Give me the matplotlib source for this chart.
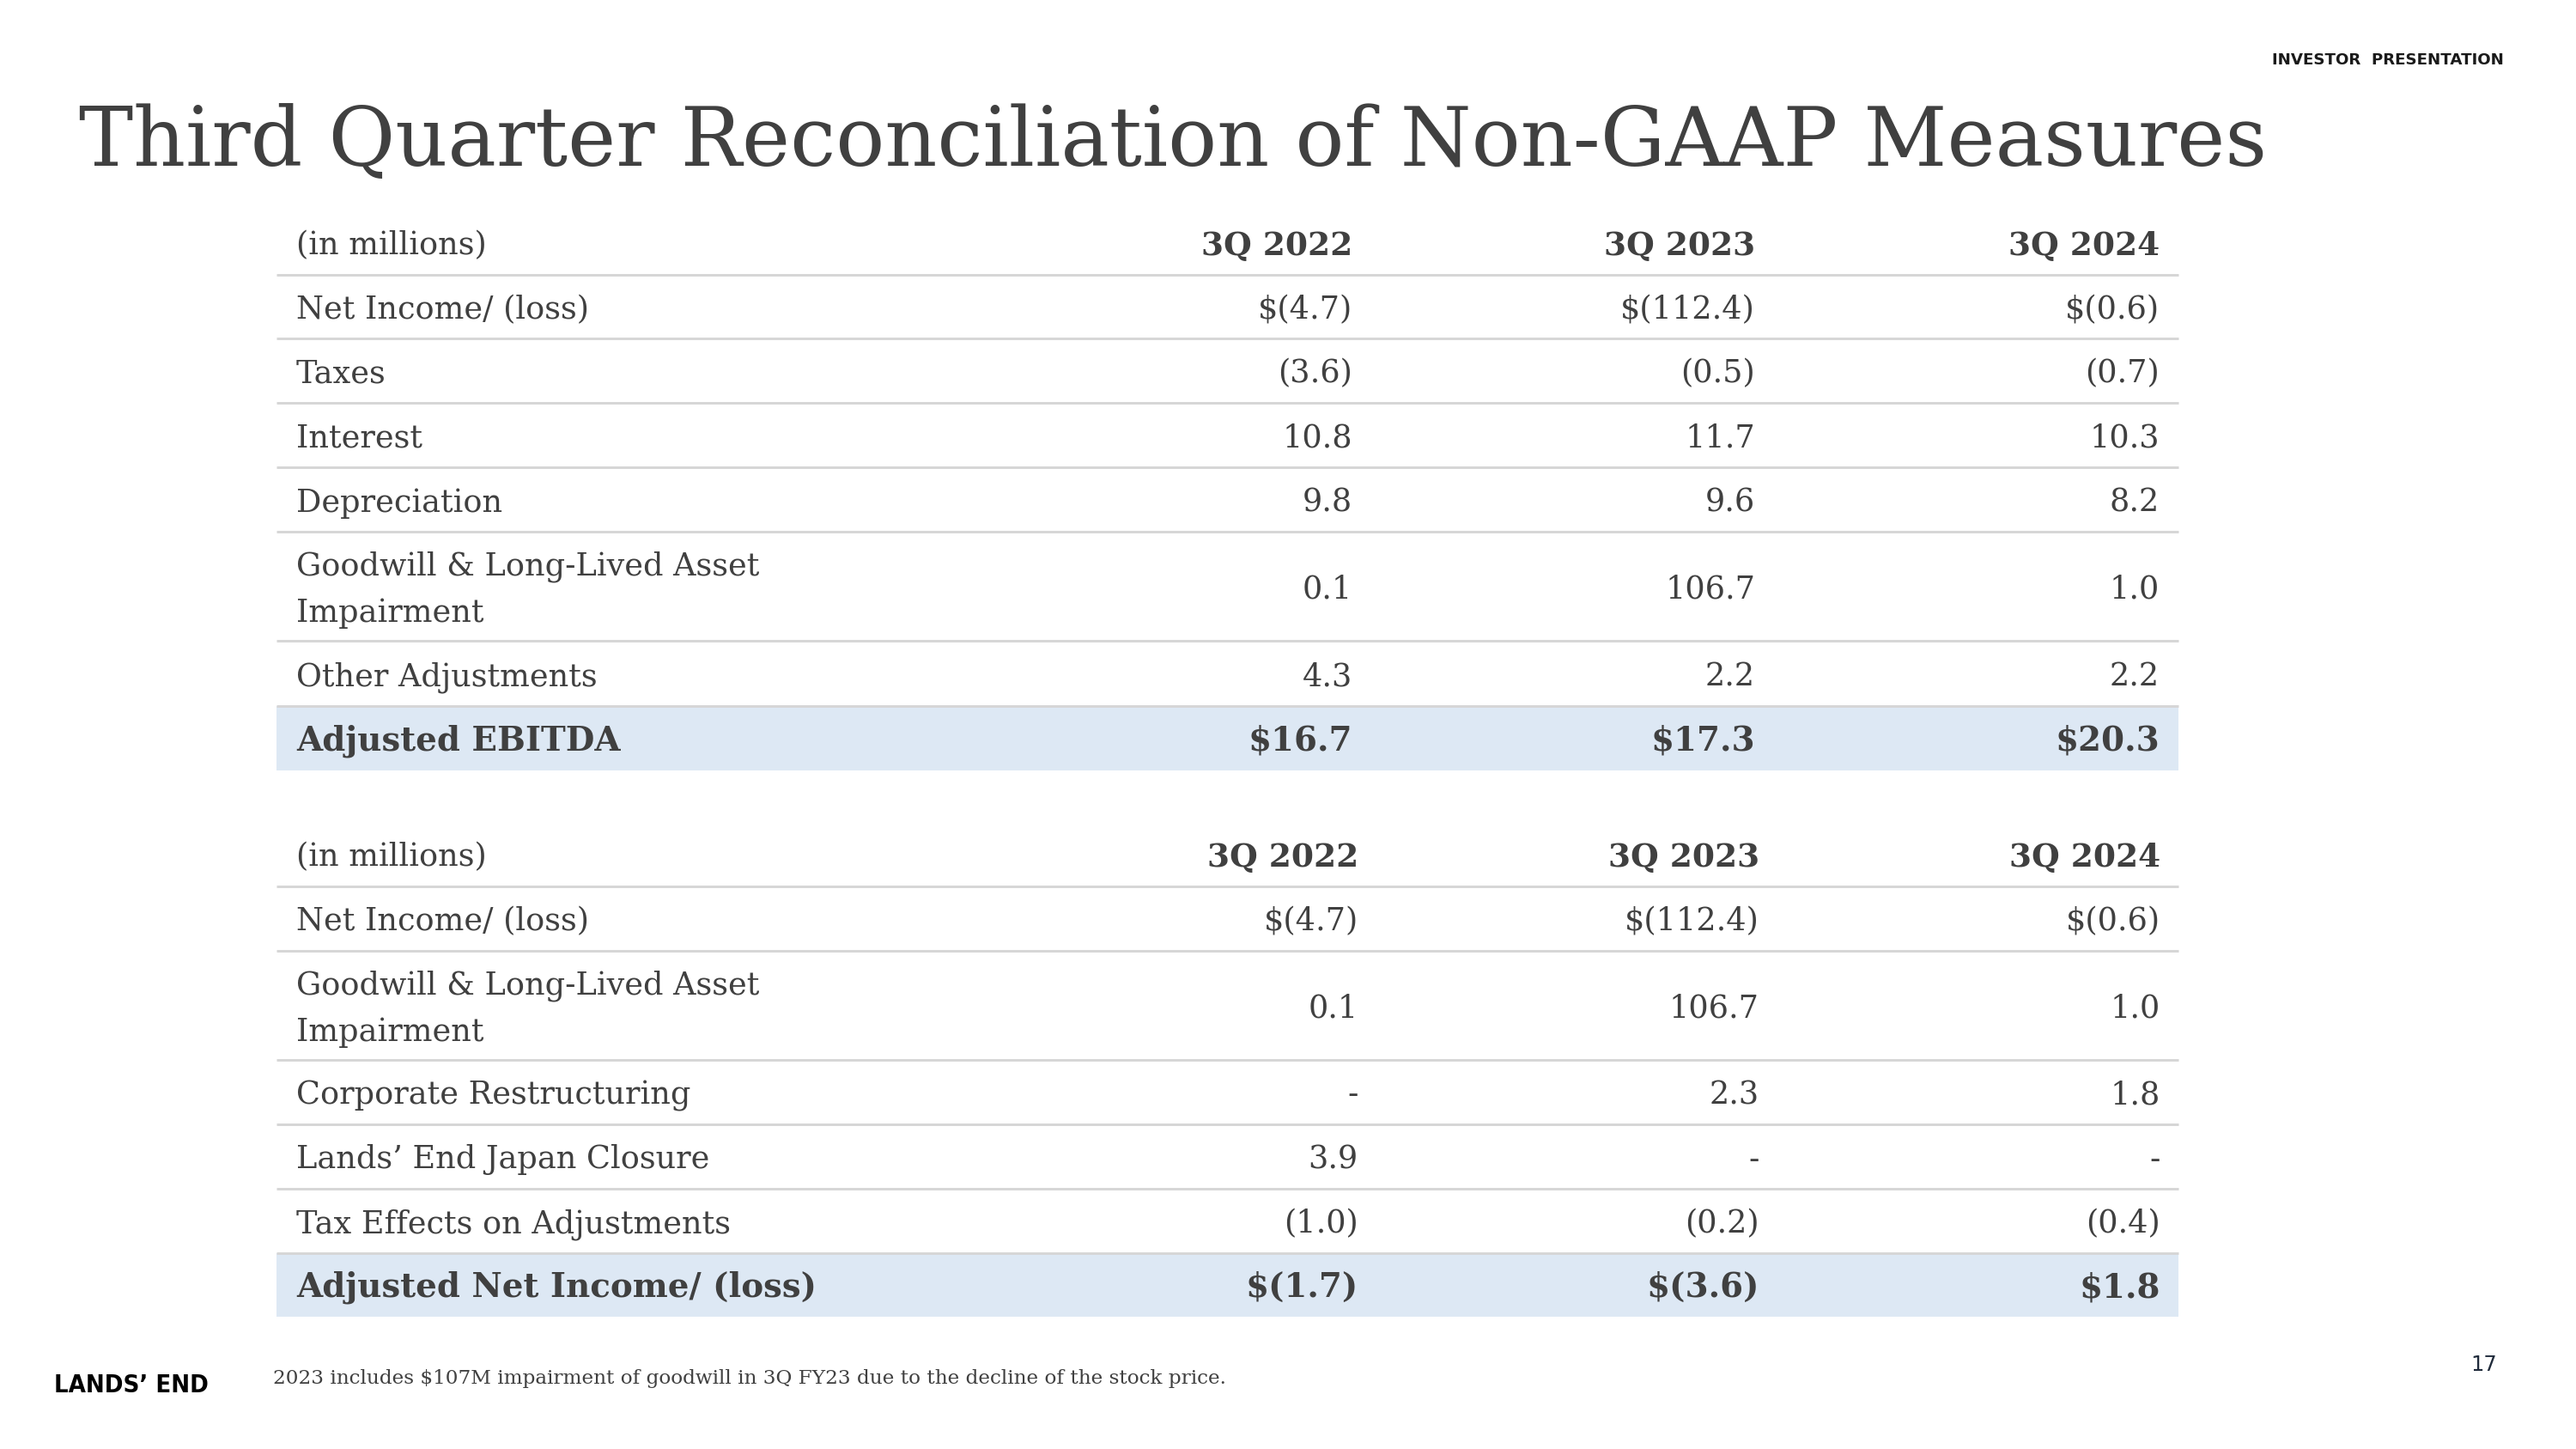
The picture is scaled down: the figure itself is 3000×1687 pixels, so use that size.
import matplotlib
matplotlib.use("Agg")
import matplotlib.pyplot as plt
from matplotlib.patches import Rectangle

# ---------------- data ----------------
periods = ["3Q 2022", "3Q 2023", "3Q 2024"]

t1_labels = ["Net Income/ (loss)", "Taxes", "Interest", "Depreciation",
             "Goodwill & Long-Lived Asset\nImpairment", "Other Adjustments",
             "Adjusted EBITDA"]
t1_2022 = [-4.7, -3.6, 10.8, 9.8, 0.1, 4.3, 16.7]
t1_2023 = [-112.4, -0.5, 11.7, 9.6, 106.7, 2.2, 17.3]
t1_2024 = [-0.6, -0.7, 10.3, 8.2, 1.0, 2.2, 20.3]

t2_labels = ["Net Income/ (loss)", "Goodwill & Long-Lived Asset\nImpairment",
             "Corporate Restructuring", "Lands\u2019 End Japan Closure",
             "Tax Effects on Adjustments", "Adjusted Net Income/ (loss)"]
t2_2022 = [-4.7, 0.1, None, 3.9, -1.0, -1.7]
t2_2023 = [-112.4, 106.7, 2.3, None, -0.2, -3.6]
t2_2024 = [-0.6, 1.0, 1.8, None, -0.4, 1.8]

title = "Third Quarter Reconciliation of Non-GAAP Measures"
unit_label = "(in millions)"
footnote = "2023 includes $107M impairment of goodwill in 3Q FY23 due to the decline of the stock price."
page_no = "17"

# ---------------- style ----------------
W, H = 3000, 1687
TXT = "#404040"
LINE = "#d6d6d6"
HILITE = "#dde8f4"
SERIF = "DejaVu Serif"
BODY = 8.8


def fmt(v, dollar):
    if v is None:
        return "-"
    s = f"{abs(v):.1f}"
    if v < 0:
        s = f"({s})"
    return ("$" if dollar else "") + s


fig = plt.figure(figsize=(W / 300, H / 300), dpi=300)
ax = fig.add_axes([0, 0, 1, 1])
ax.set_xlim(0, W)
ax.set_ylim(H, 0)
ax.axis("off")

# title & header
ax.text(92, 193, title, fontsize=22.75, family=SERIF, color=TXT, va="baseline", ha="left")
ax.text(2916, 70, "INVESTOR  PRESENTATION", fontsize=4.4, family="DejaVu Sans",
        fontweight="bold", color="#1a1a1a", ha="right", va="center")


def draw_table(header_top, row_heights, labels, cols, col_right, x0=322, x1=2537):
    header_h = 75
    # header
    yc = header_top + header_h / 2
    ax.text(345, yc + 14, unit_label, fontsize=BODY, family=SERIF, color=TXT,
            ha="left", va="baseline")
    for p, xr in zip(periods, col_right):
        ax.text(xr, yc + 14, p, fontsize=BODY + 0.2, family=SERIF, color=TXT,
                fontweight="bold", ha="right", va="baseline")
    y = header_top + header_h
    n = len(labels)
    for i, (lab, h) in enumerate(zip(labels, row_heights)):
        last = i == n - 1
        if last:
            ax.add_patch(Rectangle((x0, y), x1 - x0, h, facecolor=HILITE,
                                   edgecolor="none", zorder=0))
        ax.plot([x0, x1], [y, y], color=LINE, lw=0.7, zorder=1,
                solid_capstyle="butt")
        yc = y + h / 2
        weight = "bold" if last else "normal"
        size = BODY + 0.5 if last else BODY
        lines = lab.split("\n")
        if len(lines) == 1:
            ax.text(345, yc + 14, lab, fontsize=size, family=SERIF, color=TXT,
                    fontweight=weight, ha="left", va="baseline")
        else:
            ax.text(345, yc - 27 + 14, lines[0], fontsize=size, family=SERIF,
                    color=TXT, fontweight=weight, ha="left", va="baseline")
            ax.text(345, yc + 27 + 14, lines[1], fontsize=size, family=SERIF,
                    color=TXT, fontweight=weight, ha="left", va="baseline")
        dollar = (i == 0) or last
        for vals, xr in zip(cols, col_right):
            ax.text(xr, yc + 14, fmt(vals[i], dollar), fontsize=size, family=SERIF,
                    color=TXT, fontweight=weight, ha="right", va="baseline")
        y += h


draw_table(245, [74, 75, 75, 75, 127, 76, 75], t1_labels,
           [t1_2022, t1_2023, t1_2024], [1575, 2044, 2515])
draw_table(957, [75, 127, 75, 75, 75, 74], t2_labels,
           [t2_2022, t2_2023, t2_2024], [1582, 2049, 2516])

# footer
ax.text(318, 1605, footnote, fontsize=5.55, family=SERIF, color=TXT,
        ha="left", va="center")
ax.text(63, 1613, "LANDS\u2019 END", fontsize=7.0,
        family=["Liberation Sans Narrow", "DejaVu Sans"], fontweight="bold",
        fontstretch="condensed", color="#000000", ha="left", va="center")
ax.text(2908, 1589, page_no, fontsize=5.8, family="DejaVu Sans", color="#1f2a3a",
        ha="right", va="center")

fig.savefig("out.png", dpi=300, facecolor="white")
